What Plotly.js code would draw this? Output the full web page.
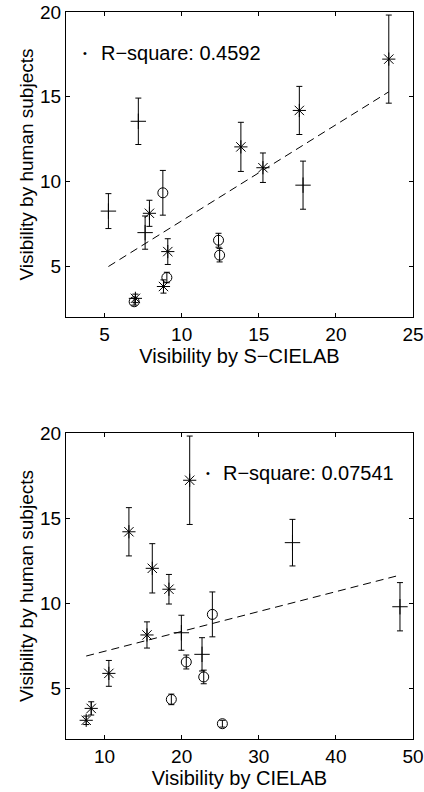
<!DOCTYPE html>
<html>
<head>
<meta charset="utf-8">
<script src="https://cdn.plot.ly/plotly-3.0.1.min.js"></script>
<style>html,body{margin:0;padding:0;background:#fff;}#chart{width:424px;height:792px;}</style>
</head>
<body>
<div id="chart"></div>
<script>
// ---- data ----
// group "+" 
const plusXS = [7.19, 17.87, 5.25, 7.63];        // Visibility by S-CIELAB
const plusXC = [34.37, 48.31, 19.96, 22.64];     // Visibility by CIELAB
const plusY  = [13.55, 9.78, 8.25, 6.98];        // Visibility by human subjects
const plusErr = [1.37, 1.42, 1.03, 0.98];
// group "*"
const starXS = [23.43, 17.63, 13.84, 15.27, 7.91, 9.10, 8.82, 7.00];
const starXC = [21.04, 13.16, 16.19, 18.35, 15.50, 10.56, 8.27, 7.62];
const starY  = [17.22, 14.19, 12.04, 10.81, 8.12, 5.86, 3.80, 3.10];
const starErr = [2.60, 1.42, 1.45, 0.87, 0.77, 0.76, 0.39, 0.25];
// group "o"
const circXS = [8.78, 12.39, 12.46, 9.04, 6.92];
const circXC = [23.98, 20.60, 22.86, 18.66, 25.28];
const circY  = [9.33, 6.53, 5.65, 4.33, 2.90];
const circErr = [1.32, 0.41, 0.40, 0.31, 0.20];
// regression lines
const fitSX = [5.25, 23.43];
const fitSY = [4.98, 15.29];
const fitCX = [7.62, 48.31];
const fitCY = [6.88, 11.64];
// texts and ticks
const rsqTop = 'R\u2212square: 0.4592';
const rsqBot = 'R\u2212square: 0.07541';
const xTicksTop = [5, 10, 15, 20, 25];
const xTicksBot = [10, 20, 30, 40, 50];
const yTicks = [5, 10, 15, 20];

// ---- drawing ----
const FONT = 'Liberation Sans, Arial, Helvetica, sans-serif';
const W = 424, H = 792;
function errObj(a){return {type:'data', array:a, visible:true, color:'#000', thickness:1, width:3};}
function grp(x, y, e, sym, size, xa, ya){
  return {x:x, y:y, error_y:errObj(e), type:'scatter', mode:'markers',
    marker:{symbol:sym, size:size, color:'#000', line:{color:'#000', width:1}},
    xaxis:xa, yaxis:ya, showlegend:false, hoverinfo:'skip'};
}
function fit(x, y, xa, ya){
  return {x:x, y:y, type:'scatter', mode:'lines', line:{color:'#000', width:1, dash:'8px,5px'},
    xaxis:xa, yaxis:ya, showlegend:false, hoverinfo:'skip'};
}
const traces = [
  fit(fitSX, fitSY, 'x', 'y'),
  grp(plusXS, plusY, plusErr, 'cross-thin-open', 11, 'x', 'y'),
  grp(starXS, starY, starErr, 'asterisk-open', 11, 'x', 'y'),
  grp(circXS, circY, circErr, 'circle-open', 10, 'x', 'y'),
  fit(fitCX, fitCY, 'x2', 'y2'),
  grp(plusXC, plusY, plusErr, 'cross-thin-open', 11, 'x2', 'y2'),
  grp(starXC, starY, starErr, 'asterisk-open', 11, 'x2', 'y2'),
  grp(circXC, circY, circErr, 'circle-open', 10, 'x2', 'y2')
];
const axBase = {showgrid:false, zeroline:false, showline:true, linecolor:'#000', linewidth:1,
  mirror:'ticks', ticks:'inside', ticklen:4, tickcolor:'#000', tickwidth:1,
  tickfont:{family:FONT, size:19, color:'#000'}, fixedrange:true};
function ax(extra){return Object.assign({}, axBase, extra);}
const xdom = [66/W, 413/W];
const xTitleFont = {family:FONT, size:20, color:'#000'};
const yTitleFont = {family:FONT, size:19, color:'#000'};
const layout = {
  width:W, height:H, margin:{l:0, r:0, t:0, b:0},
  paper_bgcolor:'#fff', plot_bgcolor:'#fff', showlegend:false,
  font:{family:FONT, color:'#000'},
  xaxis: ax({domain:xdom, range:[2.5, 25], tickvals:xTicksTop, anchor:'y',
    title:{text:'Visibility by S\u2212CIELAB', font:xTitleFont, standoff:2}}),
  yaxis: ax({domain:[1-317/H, 1-12/H], range:[2, 20], tickvals:yTicks, anchor:'x',
    title:{text:'Visibility by human subjects', font:yTitleFont, standoff:1}}),
  xaxis2: ax({domain:xdom, range:[5, 50], tickvals:xTicksBot, anchor:'y2',
    title:{text:'Visibility by CIELAB', font:xTitleFont, standoff:2}}),
  yaxis2: ax({domain:[1-739/H, 1-433/H], range:[2, 20], tickvals:yTicks, anchor:'x2',
    title:{text:'Visibility by human subjects', font:yTitleFont, standoff:1}}),
  annotations:[
    {xref:'paper', yref:'paper', x:85/W, y:1-53/H, xanchor:'center', yanchor:'middle', showarrow:false,
      text:'\u2022', font:{family:FONT, size:11, color:'#000'}},
    {xref:'paper', yref:'paper', x:99/W, y:1-53/H, xanchor:'left', yanchor:'middle', showarrow:false,
      text:rsqTop, font:{family:FONT, size:20, color:'#000'}},
    {xref:'paper', yref:'paper', x:208/W, y:1-473/H, xanchor:'center', yanchor:'middle', showarrow:false,
      text:'\u2022', font:{family:FONT, size:11, color:'#000'}},
    {xref:'paper', yref:'paper', x:221/W, y:1-473/H, xanchor:'left', yanchor:'middle', showarrow:false,
      text:rsqBot, font:{family:FONT, size:20, color:'#000'}}
  ]
};
Plotly.newPlot('chart', traces, layout, {staticPlot:true, displayModeBar:false});
</script>
</body>
</html>
